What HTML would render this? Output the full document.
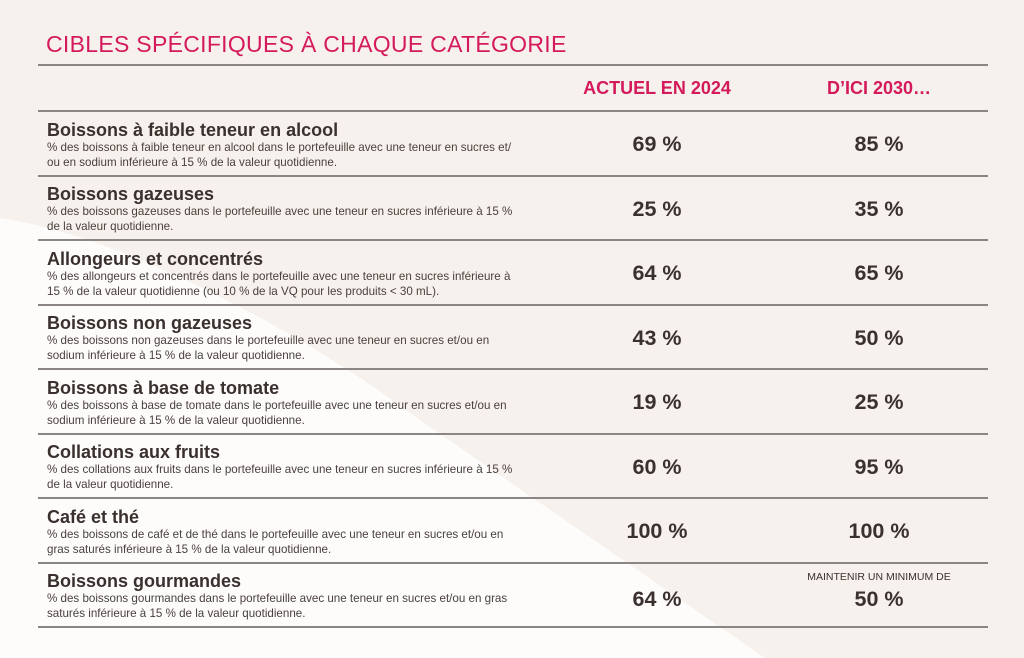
<!DOCTYPE html>
<html><head><meta charset="utf-8"><style>
body{margin:0;width:1024px;height:658px;overflow:hidden;background:#f6f1ec;font-family:"Liberation Sans",sans-serif;color:#3a302e;position:relative}
svg.bg{position:absolute;left:0;top:0}
.a{position:absolute}
.title{left:46px;top:31px;font-size:23px;color:#d41a5c;letter-spacing:0.3px}
.hl{position:absolute;left:38px;width:950px;height:1.5px;background:#8b8684}
.hd{font-size:18px;font-weight:bold;color:#d41a5c;top:78px;width:220px;text-align:center}
.rt{left:47px;font-size:18px;font-weight:bold;color:#3a302e}
.rd{left:47px;font-size:11.6px;line-height:14.5px;color:#4a403e;width:540px}
.v{font-size:21.5px;font-weight:bold;width:220px;text-align:center}
</style></head><body>
<svg class="bg" width="1024" height="658"><path d="M0,218 C120,235 300,330 420,420 L765,658 L0,658 Z" fill="#fdfcfa"/></svg>
<div class="a title">CIBLES SPÉCIFIQUES À CHAQUE CATÉGORIE</div>
<div class="hl" style="top:64px"></div>
<div class="a hd" style="left:547px">ACTUEL EN 2024</div>
<div class="a hd" style="left:769px">D’ICI 2030…</div>
<div class="hl" style="top:110px"></div>

<div class="a rt" style="top:120px">Boissons à faible teneur en alcool</div>
<div class="a rd" style="top:141px">% des boissons à faible teneur en alcool dans le portefeuille avec une teneur en sucres et/<br>ou en sodium inférieure à 15 % de la valeur quotidienne.</div>
<div class="a v" style="left:547px;top:132px">69 %</div><div class="a v" style="left:769px;top:132px">85 %</div>
<div class="hl" style="top:175px"></div>

<div class="a rt" style="top:184px">Boissons gazeuses</div>
<div class="a rd" style="top:205px">% des boissons gazeuses dans le portefeuille avec une teneur en sucres inférieure à 15 %<br>de la valeur quotidienne.</div>
<div class="a v" style="left:547px;top:197px">25 %</div><div class="a v" style="left:769px;top:197px">35 %</div>
<div class="hl" style="top:239px"></div>

<div class="a rt" style="top:249px">Allongeurs et concentrés</div>
<div class="a rd" style="top:270px">% des allongeurs et concentrés dans le portefeuille avec une teneur en sucres inférieure à<br>15 % de la valeur quotidienne (ou 10 % de la VQ pour les produits &lt; 30 mL).</div>
<div class="a v" style="left:547px;top:261px">64 %</div><div class="a v" style="left:769px;top:261px">65 %</div>
<div class="hl" style="top:304px"></div>

<div class="a rt" style="top:313px">Boissons non gazeuses</div>
<div class="a rd" style="top:334px">% des boissons non gazeuses dans le portefeuille avec une teneur en sucres et/ou en<br>sodium inférieure à 15 % de la valeur quotidienne.</div>
<div class="a v" style="left:547px;top:326px">43 %</div><div class="a v" style="left:769px;top:326px">50 %</div>
<div class="hl" style="top:368px"></div>

<div class="a rt" style="top:378px">Boissons à base de tomate</div>
<div class="a rd" style="top:399px">% des boissons à base de tomate dans le portefeuille avec une teneur en sucres et/ou en<br>sodium inférieure à 15 % de la valeur quotidienne.</div>
<div class="a v" style="left:547px;top:390px">19 %</div><div class="a v" style="left:769px;top:390px">25 %</div>
<div class="hl" style="top:433px"></div>

<div class="a rt" style="top:442px">Collations aux fruits</div>
<div class="a rd" style="top:463px">% des collations aux fruits dans le portefeuille avec une teneur en sucres inférieure à 15 %<br>de la valeur quotidienne.</div>
<div class="a v" style="left:547px;top:455px">60 %</div><div class="a v" style="left:769px;top:455px">95 %</div>
<div class="hl" style="top:497px"></div>

<div class="a rt" style="top:507px">Café et thé</div>
<div class="a rd" style="top:528px">% des boissons de café et de thé dans le portefeuille avec une teneur en sucres et/ou en<br>gras saturés inférieure à 15 % de la valeur quotidienne.</div>
<div class="a v" style="left:547px;top:519px">100 %</div><div class="a v" style="left:769px;top:519px">100 %</div>
<div class="hl" style="top:562px"></div>

<div class="a rt" style="top:571px">Boissons gourmandes</div>
<div class="a rd" style="top:592px">% des boissons gourmandes dans le portefeuille avec une teneur en sucres et/ou en gras<br>saturés inférieure à 15 % de la valeur quotidienne.</div>
<div class="a v" style="left:547px;top:587px">64 %</div>
<div class="a" style="left:739px;top:571px;width:280px;text-align:center;font-size:10.5px;color:#3a302e">MAINTENIR UN MINIMUM DE</div>
<div class="a v" style="left:769px;top:587px">50 %</div>
<div class="hl" style="top:626px"></div>
</body></html>
